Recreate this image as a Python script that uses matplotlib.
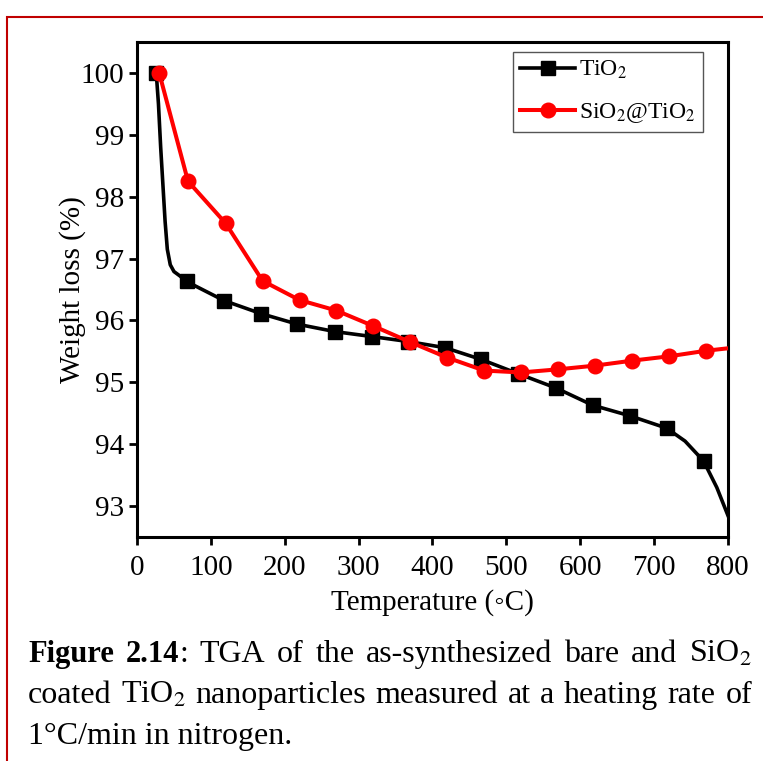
import numpy as np
import matplotlib

matplotlib.use("Agg")
import matplotlib.pyplot as plt
from matplotlib.patches import Rectangle

plt.rcParams["font.family"] = ["Liberation Serif", "DejaVu Serif"]
plt.rcParams["mathtext.fontset"] = "stix"

# TiO2 curve (line points) and indices that carry a square marker
tio2_temp = [26, 29, 32, 35, 38, 41, 45, 50, 58, 67, 118, 168, 217, 268, 318,
             367, 417, 466, 516, 567, 617, 667, 717, 742, 767, 785, 800]
tio2_wt = [100.0, 99.5, 98.8, 98.2, 97.6, 97.15, 96.9, 96.79, 96.72, 96.63,
           96.32, 96.11, 95.94, 95.82, 95.74, 95.66, 95.56, 95.37, 95.14,
           94.91, 94.63, 94.46, 94.26, 94.05, 93.73, 93.3, 92.85]
tio2_marks = [0, 9, 10, 11, 12, 13, 14, 15, 16, 17, 18, 19, 20, 21, 22, 24]

# SiO2@TiO2 curve
sio2_temp = [30, 69, 120, 170, 220, 270, 320, 370, 420, 470, 520, 570, 620,
             670, 720, 770, 800]
sio2_wt = [100.0, 98.25, 97.57, 96.64, 96.33, 96.16, 95.91, 95.65, 95.40,
           95.19, 95.16, 95.21, 95.27, 95.35, 95.42, 95.51, 95.55]
sio2_marks = list(range(16))

x_ticks = [0, 100, 200, 300, 400, 500, 600, 700, 800]
y_ticks = [93, 94, 95, 96, 97, 98, 99, 100]

fig = plt.figure(figsize=(7.63, 7.61), dpi=100)
ax = fig.add_axes([0.1796, 0.2943, 0.7744, 0.6505])

ax.plot(tio2_temp, tio2_wt, color="black", lw=2.6, marker="s", ms=10,
        markevery=tio2_marks, label="TiO$_2$", zorder=2)
ax.plot(sio2_temp, sio2_wt, color="#ff0000", lw=2.9, marker="o", ms=10.5,
        markevery=sio2_marks, label="SiO$_2$@TiO$_2$", zorder=3)

ax.set_xlim(0, 800)
ax.set_ylim(92.5, 100.5)
ax.set_xticks(x_ticks)
ax.set_yticks(y_ticks)
ax.tick_params(direction="out", length=6, width=2, labelsize=21)
ax.tick_params(axis="x", pad=7)
for s in ax.spines.values():
    s.set_linewidth(2.2)

ax.set_xlabel("Temperature (\u25e6C)", fontsize=21, labelpad=6)
ax.set_ylabel("Weight loss (%)", fontsize=21, labelpad=-4)

leg = ax.legend(loc="upper right", bbox_to_anchor=(0.958, 0.98),
                borderaxespad=0, fontsize=17, fancybox=False,
                edgecolor="#555555", framealpha=1,
                handlelength=2.3, handletextpad=0.2, borderpad=0.3,
                labelspacing=0.85)
leg.get_frame().set_linewidth(1.0)

# red frame around the figure block
fig.patches.append(Rectangle((7 / 763, -0.1), 1.2, 1 - 17 / 761 + 0.1,
                             transform=fig.transFigure, fill=False,
                             edgecolor="#c00000", lw=1.5))

# justified caption
cap_size = 23
bold_size = 22
left, right = 28 / 763, 752 / 763
lines = [
    [[("Figure", "bold")], [("2.14", "bold"), (":", "normal")],
     [("TGA", "normal")], [("of", "normal")], [("the", "normal")],
     [("as-synthesized", "normal")], [("bare", "normal")],
     [("and", "normal")], [("SiO$_2$", "normal")]],
    [[("coated", "normal")], [("TiO$_2$", "normal")],
     [("nanoparticles", "normal")], [("measured", "normal")],
     [("at", "normal")], [("a", "normal")], [("heating", "normal")],
     [("rate", "normal")], [("of", "normal")]],
]
last_line = "1\u00b0C/min in nitrogen."
baselines = [1 - 662 / 761, 1 - 703 / 761, 1 - 744 / 761]

renderer = fig.canvas.get_renderer()
fw = fig.get_figwidth() * fig.dpi


def size_for(weight):
    return bold_size if weight == "bold" else cap_size


def piece_width(txt, weight):
    t = fig.text(0, 0, txt, fontsize=size_for(weight), weight=weight)
    w = t.get_window_extent(renderer).width / fw
    t.remove()
    return w


for words, yb in zip(lines, baselines):
    widths = [[piece_width(t, w) for t, w in word] for word in words]
    total = sum(sum(ws) for ws in widths)
    gap = (right - left - total) / (len(words) - 1)
    x = left
    for word, ws in zip(words, widths):
        for (t, w), pw in zip(word, ws):
            fig.text(x, yb, t, fontsize=size_for(w), weight=w, va="baseline")
            x += pw
        x += gap

fig.text(left, baselines[2], last_line, fontsize=cap_size, va="baseline")

fig.savefig("out.png", dpi=100)
